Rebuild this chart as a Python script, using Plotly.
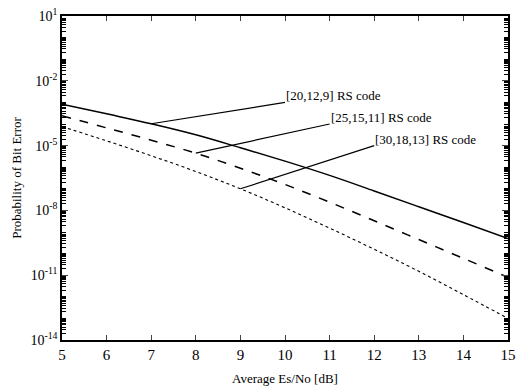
import numpy as np
import plotly.graph_objects as go

# Data: log10 of bit error probability
snr_db = [5, 6, 7, 8, 9, 10, 11, 12, 13, 14, 15]
log_ber_20_12_9 = [-3.08, -3.53, -3.99, -4.50, -5.10, -5.72, -6.38, -7.10, -7.83, -8.56, -9.30]
log_ber_25_15_11 = [-3.62, -4.18, -4.75, -5.35, -6.05, -6.80, -7.62, -8.48, -9.35, -10.22, -11.10]
log_ber_30_18_13 = [-4.12, -4.78, -5.47, -6.20, -7.00, -7.88, -8.82, -9.80, -10.82, -11.90, -13.00]

series_names = ["[20,12,9] RS code", "[25,15,11] RS code", "[30,18,13] RS code"]
series_vals = [log_ber_20_12_9, log_ber_25_15_11, log_ber_30_18_13]
series_dash = ["solid", "dash", "dot"]
series_width = [1.5, 1.5, 1.1]

# label anchor points (x in dB, y in log10) and the x where the leader touches each curve
label_x = [10, 11, 12]
label_logy = [-3, -4, -5]
leader_from_x = [7, 8, 9]

ytick_exp = [1, -2, -5, -8, -11, -14]
xtick_vals = [5, 6, 7, 8, 9, 10, 11, 12, 13, 14, 15]

FONT = "Liberation Serif, Times New Roman, DejaVu Serif, serif"

fig = go.Figure()
for name, vals, dash, w in zip(series_names, series_vals, series_dash, series_width):
    fig.add_trace(go.Scatter(
        x=snr_db, y=[10 ** v for v in vals], mode="lines", name=name,
        line=dict(color="black", width=w, dash=dash, shape="spline", smoothing=1.0),
        showlegend=False,
    ))

annotations = []
for name, vals, lx, ly, fx in zip(series_names, series_vals, label_x, label_logy, leader_from_x):
    fy = vals[snr_db.index(fx)]
    fig.add_trace(go.Scatter(
        x=[fx, lx], y=[10 ** fy, 10 ** ly], mode="lines",
        line=dict(color="black", width=1.2), showlegend=False, hoverinfo="skip",
    ))
    annotations.append(dict(
        x=lx, y=ly, xref="x", yref="y", text=name, showarrow=False,
        xanchor="left", yanchor="bottom", yshift=-3, xshift=-1,
        font=dict(family=FONT, size=13, color="black"),
    ))

minor_vals = []
for e in range(-14, 1):
    for m in range(1, 10):
        v = m * 10.0 ** e
        if e not in ytick_exp or m != 1:
            minor_vals.append(v)
minor_vals.append(10.0)

fig.update_layout(
    width=522, height=390,
    margin=dict(l=62, r=6, t=11, b=49),
    paper_bgcolor="white", plot_bgcolor="white",
    font=dict(family=FONT, size=13, color="black"),
    annotations=annotations,
    xaxis=dict(
        range=[5, 15], tickvals=xtick_vals, ticks="inside", ticklen=5,
        showline=True, linecolor="black", linewidth=1.5, mirror="ticks",
        showgrid=False, zeroline=False, tickfont=dict(family=FONT, size=15),
        title=dict(text="Average Es/No [dB]", font=dict(family=FONT, size=13), standoff=12),
    ),
    yaxis=dict(
        type="log", range=[-14, 1],
        tickvals=[10.0 ** e for e in ytick_exp],
        ticktext=["10<sup>%d</sup>" % e for e in ytick_exp],
        ticks="inside", ticklen=6,
        minor=dict(tickvals=minor_vals, ticks="inside", ticklen=4, tickcolor="black"),
        showline=True, linecolor="black", linewidth=1.5, mirror="ticks",
        showgrid=False, zeroline=False, tickfont=dict(family=FONT, size=14),
        title=dict(text="Probability of Bit Error", font=dict(family=FONT, size=13), standoff=6),
    ),
)

fig.write_html("out.html")
